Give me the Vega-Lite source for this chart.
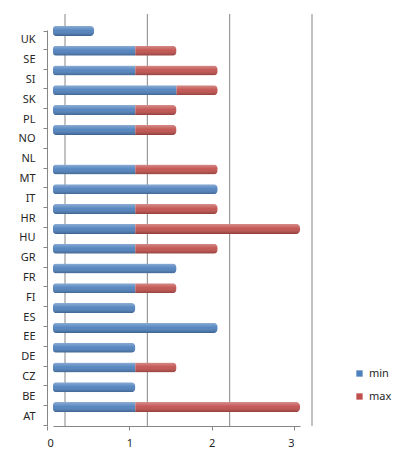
{
  "$schema": "https://vega.github.io/schema/vega-lite/v6.json",
  "autosize": {"type": "none"},
  "padding": {"left": 53, "top": 30, "right": 96, "bottom": 33},
  "width": 247,
  "height": 396,
  "background": "white",
  "config": {
    "font": "Noto Sans",
    "view": {"stroke": null},
    "axis": {"labelFont": "Noto Sans", "labelFontSize": 11, "labelColor": "#262626", "domainColor": "#868686", "tickColor": "#868686", "grid": false}
  },
  "datasets": {
    "bars": [
      {"country": "UK", "series": "min", "value": 0.5},
      {"country": "SE", "series": "min", "value": 1}, {"country": "SE", "series": "max", "value": 0.5},
      {"country": "SI", "series": "min", "value": 1}, {"country": "SI", "series": "max", "value": 1},
      {"country": "SK", "series": "min", "value": 1.5}, {"country": "SK", "series": "max", "value": 0.5},
      {"country": "PL", "series": "min", "value": 1}, {"country": "PL", "series": "max", "value": 0.5},
      {"country": "NO", "series": "min", "value": 1}, {"country": "NO", "series": "max", "value": 0.5},
      {"country": "NL", "series": "min", "value": 0},
      {"country": "MT", "series": "min", "value": 1}, {"country": "MT", "series": "max", "value": 1},
      {"country": "IT", "series": "min", "value": 2},
      {"country": "HR", "series": "min", "value": 1}, {"country": "HR", "series": "max", "value": 1},
      {"country": "HU", "series": "min", "value": 1}, {"country": "HU", "series": "max", "value": 2},
      {"country": "GR", "series": "min", "value": 1}, {"country": "GR", "series": "max", "value": 1},
      {"country": "FR", "series": "min", "value": 1.5},
      {"country": "FI", "series": "min", "value": 1}, {"country": "FI", "series": "max", "value": 0.5},
      {"country": "ES", "series": "min", "value": 1},
      {"country": "EE", "series": "min", "value": 2},
      {"country": "DE", "series": "min", "value": 1},
      {"country": "CZ", "series": "min", "value": 1}, {"country": "CZ", "series": "max", "value": 0.5},
      {"country": "BE", "series": "min", "value": 1},
      {"country": "AT", "series": "min", "value": 1}, {"country": "AT", "series": "max", "value": 2}
    ],
    "grid": [{"v": 0}, {"v": 1}, {"v": 2}, {"v": 3}]
  },
  "layer": [
    {
      "data": {"name": "grid"},
      "mark": {"type": "rule", "color": "#868686", "strokeWidth": 1, "xOffset": 12, "yOffset": -16, "y2Offset": -16},
      "encoding": {
        "x": {"field": "v", "type": "quantitative", "scale": {"domain": [0, 3]}, "axis": {"values": [0, 1, 2, 3], "tickSize": 4, "tickOffset": -6, "labelPadding": 7, "format": "d"}, "title": null}
      }
    },
    {
      "data": {"name": "bars"},
      "mark": {"type": "bar", "size": 10, "yOffset": -9, "y2Offset": -9, "cornerRadiusEnd": 4, "cornerRadiusTopLeft": 3, "cornerRadiusBottomLeft": 3},
      "encoding": {
        "y": {"field": "country", "type": "nominal", "sort": ["UK","SE","SI","SK","PL","NO","NL","MT","IT","HR","HU","GR","FR","FI","ES","EE","DE","CZ","BE","AT"], "title": null, "axis": {"tickBand": "extent", "tickSize": 4, "labelPadding": 8, "offset": 6}},
        "x": {"field": "value", "type": "quantitative", "stack": "zero", "scale": {"domain": [0, 3]}, "title": null},
        "color": {"field": "series", "type": "nominal", "scale": {"domain": ["min", "max"], "range": ["#4F81BD", "#C0504D"]}, "title": null,
          "legend": {"orient": "none", "legendX": 301, "legendY": 338, "symbolType": "square", "symbolSize": 40, "rowPadding": 11, "labelFontSize": 11, "labelColor": "#262626", "labelFont": "Noto Sans"}},
        "order": {"field": "series", "sort": "descending"}
      }
    },
    {
      "data": {"name": "bars"},
      "mark": {"type": "bar", "size": 10, "yOffset": -9, "y2Offset": -9, "cornerRadiusEnd": 4, "cornerRadiusTopLeft": 3, "cornerRadiusBottomLeft": 3,
        "fill": {"gradient": "linear", "x1": 0, "y1": 0, "x2": 0, "y2": 1, "stops": [
          {"offset": 0, "color": "rgba(255,255,255,0.35)"},
          {"offset": 0.45, "color": "rgba(255,255,255,0.05)"},
          {"offset": 1, "color": "rgba(0,0,0,0.25)"}
        ]}},
      "encoding": {
        "y": {"field": "country", "type": "nominal", "sort": ["UK","SE","SI","SK","PL","NO","NL","MT","IT","HR","HU","GR","FR","FI","ES","EE","DE","CZ","BE","AT"]},
        "x": {"field": "value", "type": "quantitative", "stack": "zero"},
        "detail": {"field": "series"},
        "order": {"field": "series", "sort": "descending"}
      }
    }
  ]
}
